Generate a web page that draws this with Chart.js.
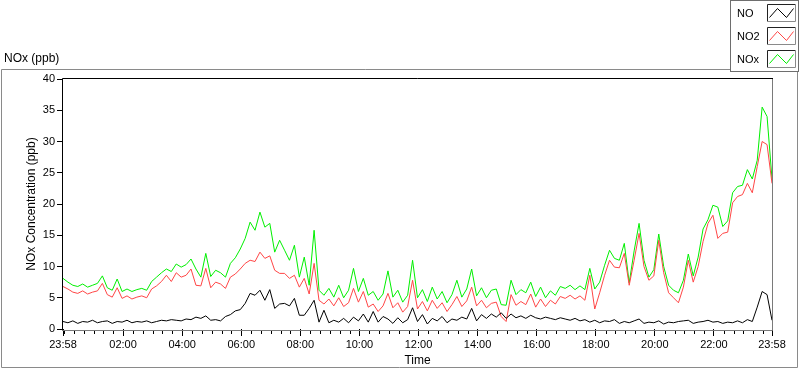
<!DOCTYPE html>
<html>
<head>
<meta charset="utf-8">
<script src="https://cdn.jsdelivr.net/npm/chart.js@4.4.1/dist/chart.umd.min.js"></script>
<style>
  html, body { margin: 0; padding: 0; background: #fff; }
</style>
</head>
<body>
<canvas id="c" width="800" height="369"></canvas>
<script>
// NOx monitor, one day (23:58 -> 23:58). Samples every 10 min.
const STEP_MIN = 10;

const no = [
  1.2, 1.0, 1.3, 0.9, 1.2, 1.1, 1.4, 1.0, 1.2, 1.3, 0.9, 1.2,
  1.1, 1.4, 1.0, 1.2, 1.1, 1.3, 1.0, 1.2, 1.4, 1.3, 1.5, 1.4,
  1.3, 1.6, 1.5, 1.9, 1.7, 2.1, 1.4, 1.5, 1.3, 2.0, 2.3, 2.9,
  3.1, 4.1, 5.7, 5.4, 6.2, 4.6, 6.3, 3.3, 4.0, 4.1, 3.7, 4.9,
  2.2, 2.2, 3.3, 4.6, 1.1, 3.0, 1.0, 1.4, 1.1, 1.7, 1.0, 1.9,
  1.3, 2.4, 1.1, 2.8, 1.1, 2.0, 1.6, 0.9, 1.8, 1.0, 1.5, 3.4,
  1.2, 2.3, 0.8, 1.7, 1.3, 2.0, 1.0, 1.6, 1.4, 1.9, 1.6, 3.3,
  1.3, 2.3, 1.7, 2.4, 1.9, 2.6, 1.7, 2.4, 1.8, 2.1, 1.7, 2.2,
  1.8, 1.6, 1.9, 1.7, 1.5, 1.8, 1.6, 1.4, 1.7, 1.3, 1.5, 1.1,
  1.4, 1.0, 1.3, 1.2, 1.5, 0.9, 1.2, 1.0, 1.3, 1.6, 0.9, 1.1,
  1.0, 1.3, 0.8, 1.1, 1.0, 1.2, 1.3, 1.4, 0.9, 1.1, 1.2, 1.4,
  1.1, 1.2, 0.9, 1.1, 1.0, 1.3, 1.0, 1.5, 1.2, 3.5, 6.0, 5.5,
  1.4
];
const no2 = [
  6.8, 6.4, 5.9, 5.7, 6.1, 5.6, 5.9, 6.1, 7.3, 5.5, 5.1, 6.6,
  4.9, 5.3, 4.8, 5.1, 5.3, 5.0, 6.4, 6.9, 7.6, 8.6, 7.6, 9.0,
  8.3, 8.6, 9.6, 7.0, 6.9, 9.7, 6.6, 7.5, 7.2, 6.5, 8.3, 8.8,
  9.6, 10.5, 11.0, 10.8, 12.3, 11.3, 11.7, 9.4, 8.9, 8.9, 8.1, 8.6,
  6.7, 8.1, 5.6, 10.5, 4.6, 4.0, 4.8, 3.7, 5.0, 3.6, 4.2, 6.5,
  4.3, 6.0, 3.5, 4.0, 2.8, 3.7, 5.7, 3.4, 4.2, 2.7, 3.6, 7.8,
  3.2, 4.4, 2.9, 4.6, 3.3, 4.2, 2.8, 3.9, 5.2, 3.6, 4.5, 6.7,
  3.7, 4.6, 3.4, 4.1, 4.3, 2.0, 1.2, 5.5, 3.8, 4.4, 3.9, 5.6,
  3.5, 4.8, 3.6, 4.6, 4.0, 5.2, 4.9, 5.4, 4.8, 5.3, 4.6, 8.6,
  3.2, 5.8, 8.6, 11.0, 9.9, 9.8, 12.1, 7.0, 11.0, 15.3, 10.0, 7.8,
  8.5, 14.2, 9.0, 5.8, 5.0, 4.2, 6.7, 11.0, 7.5, 10.0, 14.0, 16.9,
  18.2, 14.5, 15.3, 15.5, 20.2, 21.2, 21.5, 23.3, 21.8, 26.0, 30.0, 29.5,
  23.3
];
const nox = [
  8.1, 7.5, 7.0, 6.8, 7.2, 6.7, 7.0, 7.3, 8.5, 6.6, 6.2, 8.0,
  6.0, 6.4, 6.0, 6.3, 6.5, 6.2, 7.6, 8.3, 9.0, 9.6, 9.2, 10.4,
  9.9, 10.3, 11.2, 9.6, 8.3, 12.1, 8.4, 9.4, 9.0, 8.3, 10.5, 11.4,
  12.8, 14.5, 17.1, 15.8, 18.7, 16.3, 16.9, 12.3, 14.2, 12.6, 11.0, 13.4,
  8.3, 11.5, 7.0, 15.8, 6.2, 5.4, 6.5, 5.1, 7.0, 5.0, 6.2, 9.7,
  6.0, 8.1, 5.4, 6.0, 4.6, 5.6, 9.3, 5.1, 6.2, 4.3, 5.4, 11.0,
  5.0, 6.3, 4.4, 6.7, 4.8, 6.0, 4.2, 5.5, 7.8, 5.1, 6.4, 9.6,
  5.3, 6.6, 5.0, 6.2, 6.4, 3.9, 3.8, 7.8, 5.5, 6.3, 5.8, 7.5,
  5.2, 6.7, 5.0, 6.1, 5.4, 6.8, 6.5, 7.0, 6.3, 6.9, 6.3, 9.7,
  6.4, 7.5, 10.2, 12.6, 11.3, 11.0, 13.7, 7.4, 12.5, 16.9, 11.0, 8.3,
  9.5, 15.2, 10.0, 7.0, 6.2, 5.8, 7.8, 12.0, 8.5, 11.5, 16.0, 17.5,
  19.8, 19.5, 16.4, 17.3, 21.8, 22.8, 23.0, 25.5, 24.0, 27.0, 35.5, 34.0,
  24.0
];

// x ticks (minutes after 23:58)
const xTickValues = [0, 122, 242, 362, 482, 602, 722, 842, 962, 1082, 1202, 1322, 1440];
const xTickLabels = ['23:58', '02:00', '04:00', '06:00', '08:00', '10:00', '12:00',
  '14:00', '16:00', '18:00', '20:00', '22:00', '23:58'];

const seriesNames = ['NO', 'NO2', 'NOx'];
const seriesColors = ['#000000', '#ff4646', '#00f000'];

const FONT = '"Liberation Sans", Arial, sans-serif';
const toPts = arr => arr.map((v, i) => ({ x: i * STEP_MIN, y: v }));

// LabVIEW-ish chrome: outer frame, legend boxes, plot label, plot border, minor ticks
const labviewChrome = {
  id: 'labviewChrome',
  beforeDraw(chart) {
    const ctx = chart.ctx;
    ctx.save();
    ctx.fillStyle = '#fff';
    ctx.fillRect(0, 0, chart.width, chart.height);

    ctx.strokeStyle = '#8a8a8a';
    ctx.lineWidth = 1;
    ctx.beginPath();
    ctx.moveTo(730, 69.5); ctx.lineTo(1.5, 69.5); ctx.lineTo(1.5, 367.5);
    ctx.lineTo(797.5, 367.5); ctx.lineTo(797.5, 72);
    ctx.stroke();

    ctx.fillStyle = '#000';
    ctx.font = '12px ' + FONT;
    ctx.textBaseline = 'middle';
    ctx.fillText('NOx (ppb)', 4, 59);

    // legend
    ctx.strokeStyle = '#6e6e6e';
    ctx.strokeRect(730.5, 0.5, 68, 71);
    chart.data.datasets.forEach((ds, i) => {
      const cy = 13 + i * 23;
      ctx.fillStyle = '#000';
      ctx.font = '11px ' + FONT;
      ctx.fillText(ds.label, 737, cy + 0.5);
      const bx = 767.5, by = cy - 8.5, bw = 28, bh = 17;
      ctx.strokeStyle = '#222';
      ctx.beginPath();
      ctx.moveTo(bx, by + bh); ctx.lineTo(bx, by); ctx.lineTo(bx + bw, by);
      ctx.stroke();
      ctx.strokeStyle = '#8a8a8a';
      ctx.beginPath();
      ctx.moveTo(bx + bw, by); ctx.lineTo(bx + bw, by + bh); ctx.lineTo(bx, by + bh);
      ctx.stroke();
      ctx.strokeStyle = ds.borderColor;
      ctx.beginPath();
      ctx.moveTo(bx + 2, by + 13); ctx.lineTo(bx + 10, by + 4);
      ctx.lineTo(bx + 19, by + 13); ctx.lineTo(bx + 26, by + 4);
      ctx.stroke();
    });
    ctx.restore();
  },
  afterDraw(chart) {
    const ctx = chart.ctx;
    const { left, top, right, bottom } = chart.chartArea;
    ctx.save();
    ctx.lineWidth = 1;
    ctx.strokeStyle = '#000';
    ctx.beginPath();
    ctx.moveTo(left - 0.5, bottom + 1); ctx.lineTo(left - 0.5, top - 0.5); ctx.lineTo(right + 1, top - 0.5);
    ctx.stroke();
    ctx.strokeStyle = '#7a7a7a';
    ctx.beginPath();
    ctx.moveTo(right + 0.5, top); ctx.lineTo(right + 0.5, bottom + 1.5); ctx.lineTo(left - 1, bottom + 1.5);
    ctx.stroke();

    // minor ticks every 20 min
    const xs = chart.scales.x;
    ctx.strokeStyle = '#000';
    ctx.beginPath();
    for (let t = 2; t < 1440; t += 20) {
      if (t > 2 && (t - 2) % 120 === 0) continue;
      const px = Math.round(xs.getPixelForValue(t)) + 0.5;
      ctx.moveTo(px, bottom + 2); ctx.lineTo(px, bottom + 5);
    }
    ctx.stroke();
    ctx.restore();
  }
};

new Chart(document.getElementById('c'), {
  type: 'line',
  data: {
    datasets: [no, no2, nox].map((arr, i) => ({
      label: seriesNames[i],
      data: toPts(arr),
      borderColor: seriesColors[i],
      borderWidth: 1,
      pointRadius: 0,
      tension: 0,
      fill: false,
    })),
  },
  options: {
    responsive: false,
    animation: false,
    layout: { padding: { left: 0, top: 79, right: 28, bottom: 0 } },
    plugins: { legend: { display: false }, tooltip: { enabled: false } },
    scales: {
      x: {
        type: 'linear', min: 0, max: 1440,
        afterBuildTicks: s => { s.ticks = xTickValues.map(v => ({ value: v })); },
        afterFit: s => { s.height = 40; },
        ticks: {
          autoSkip: false, maxRotation: 0, padding: 2, color: '#000',
          font: { family: FONT, size: 11 },
          callback: (v, i) => xTickLabels[i],
        },
        grid: { drawOnChartArea: false, tickLength: 7, tickColor: '#000' },
        border: { display: false },
        title: { display: true, text: 'Time', color: '#000',
          font: { family: FONT, size: 12 }, padding: { top: 0, bottom: 1 } },
      },
      y: {
        min: 0, max: 40,
        afterFit: s => { s.width = 63; },
        ticks: { stepSize: 5, padding: 2, color: '#000', font: { family: FONT, size: 11 } },
        grid: { drawOnChartArea: false, tickLength: 6, tickColor: '#000' },
        border: { display: false },
        title: { display: true, text: 'NOx Concentration (ppb)', color: '#000',
          font: { family: FONT, size: 12 }, padding: { top: 24, bottom: 0 } },
      },
    },
  },
  plugins: [labviewChrome],
});
</script>
</body>
</html>
